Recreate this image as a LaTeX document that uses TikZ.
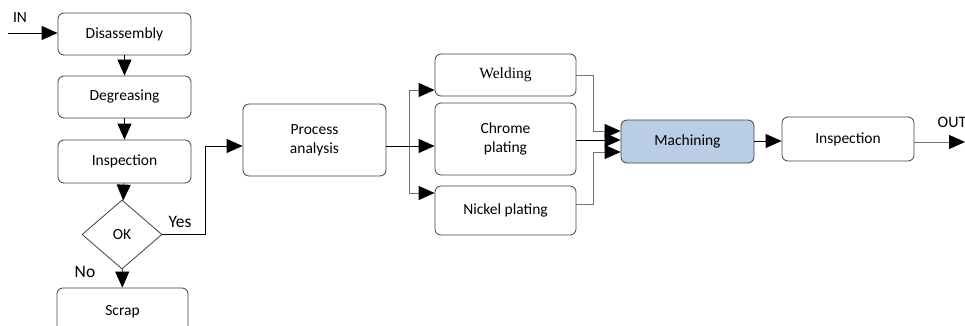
\documentclass[tikz,border=0pt]{standalone}
\usepackage{fontspec}
\setmainfont{Carlito}
\newfontfamily\serifw{Liberation Serif}
\usetikzlibrary{arrows.meta,shapes.geometric}
\begin{document}
\begin{tikzpicture}[x=1pt,y=-1pt,
  box/.style={draw=black!75,rounded corners=6pt,line width=0.8pt,align=center,inner sep=0pt,font=\fontsize{15.5}{18}\selectfont},
  lab/.style={font=\fontsize{17.5}{20}\selectfont,inner sep=0pt},
  arr/.style={line width=0.8pt,-{Triangle[length=16pt,width=14pt,color=black]}},
  ln/.style={line width=0.8pt},
  gr/.style={draw=black!55}]
\clip (0,0) rectangle (965,326);
\useasboundingbox (0,0) rectangle (965,326);
\node[box,minimum width=133pt,minimum height=42pt] (dis) at (124.5,34) {Disassembly};
\node[box,minimum width=133pt,minimum height=42pt] (deg) at (124.5,97) {Degreasing};
\node[box,minimum width=133pt,minimum height=43pt] (insp) at (124.5,161.5) {Inspection};
\node[diamond,draw=black!75,line width=0.8pt,minimum width=80pt,minimum height=69pt,inner sep=0pt,font=\fontsize{15.5}{18}\selectfont] (ok) at (122,234.5) {OK};
\node[box,minimum width=131pt,minimum height=48pt] (scrap) at (122.5,312) {Scrap};
\node[box,minimum width=143pt,minimum height=72pt] (pa) at (314.5,140) {Process\\[1pt]analysis};
\node[box,minimum width=141pt,minimum height=42pt,font=\serifw\fontsize{15.5}{18}\selectfont] (weld) at (505.5,75) {Welding};
\node[box,minimum width=141pt,minimum height=72pt] (chr) at (505.5,139) {Chrome\\[1pt]plating};
\node[box,minimum width=141pt,minimum height=49pt] (nic) at (505.5,210.5) {Nickel plating};
\node[box,fill={rgb,255:red,185;green,205;blue,229},minimum width=133pt,minimum height=43pt] (mach) at (687.5,141.5) {Machining};
\node[box,minimum width=132pt,minimum height=44pt] (insp2) at (848,139) {Inspection};
% labels
\node[lab,font=\fontsize{15.5}{18}\selectfont] (lin) at (20,18) {IN};
\node[lab] (lyes) at (180,222) {Yes};
\node[lab] (lno) at (85,272) {No};
\node[lab,font=\fontsize{16}{18}\selectfont] (lout) at (952,122) {OUT};
% coordinates
\coordinate (inS) at (8,33);
\coordinate (y1) at (205,146);
\coordinate (paO) at (386,146);
\coordinate (j) at (409,146);
\coordinate (jt) at (409,90);
\coordinate (jb) at (409,193);
\coordinate (wo) at (576,75);
\coordinate (wc) at (593,131);
\coordinate (co) at (576,140);
\coordinate (no) at (576,204);
\coordinate (nc) at (593,152);
\coordinate (mo) at (754,141);
\coordinate (io) at (914,142);
\coordinate (outE) at (965,142);
% connectors
\draw[arr] (inS) -- (inS -| dis.west);
\draw[arr] (dis) -- (deg);
\draw[arr] (deg) -- (insp);
\draw[arr] (insp) -- (ok);
\draw[arr] (ok) -- (scrap);
\draw[ln] (ok.east) -| (y1);
\draw[arr] (y1) -- (y1 -| pa.west);
\draw[ln] (paO) -- (j);
\draw[ln,gr] (jt) -- (jb);
\draw[arr] (j) -- (j -| chr.west);
\draw[arr,gr] (jt) -- (jt -| weld.west);
\draw[arr,gr] (jb) -- (jb -| nic.west);
\draw[ln,gr] (wo) -| (wc);
\draw[arr,gr] (wc) -- (wc -| mach.west);
\draw[arr] (co) -- (co -| mach.west);
\draw[ln,gr] (no) -| (nc);
\draw[arr,gr] (nc) -- (nc -| mach.west);
\draw[arr] (mo) -- (mo -| insp2.west);
\draw[arr,gr] (io) -- (outE);
\end{tikzpicture}
\end{document}
